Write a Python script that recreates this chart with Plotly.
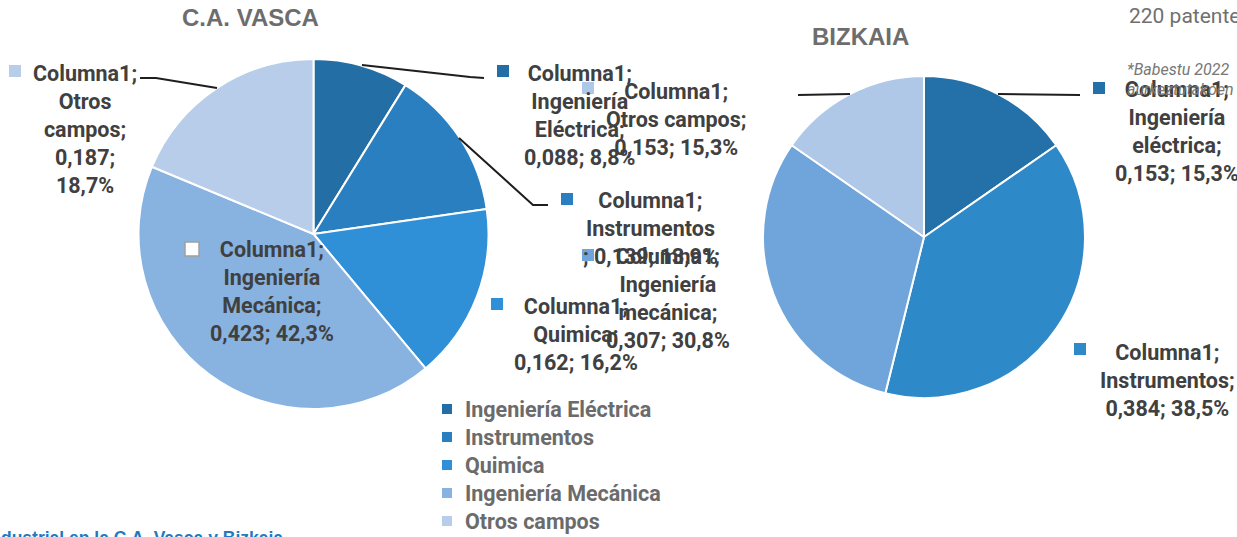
import plotly.graph_objects as go

# ---------------- data ----------------
series_name = "Columna1"

cats_vasca = ["Ingeniería Eléctrica", "Instrumentos", "Quimica", "Ingeniería Mecánica", "Otros campos"]
vals_vasca = [0.088, 0.139, 0.162, 0.423, 0.187]
pct_vasca = [8.8, 13.9, 16.2, 42.3, 18.7]

cats_bizkaia = ["Ingeniería eléctrica", "Instrumentos", "Ingeniería mecánica", "Otros campos"]
vals_bizkaia = [0.153, 0.384, 0.307, 0.153]
pct_bizkaia = [15.3, 38.5, 30.8, 15.3]

title_vasca = "C.A. VASCA"
title_bizkaia = "BIZKAIA"

# ---------------- styling ----------------
W, H = 1237, 537
colors_vasca = ["#236EA5", "#2A7FC1", "#2F90D7", "#88B3E1", "#B7CDEA"]
colors_bizkaia = ["#2470A8", "#2E89C9", "#6FA5DA", "#AFC8E8"]
LABEL_FONT = dict(family="Roboto, Arial, sans-serif", size=21.5, color="#404040", weight="bold")
LEGEND_FONT = dict(family="Roboto, Arial, sans-serif", size=21.5, color="#6B6B6B", weight="bold")


def px(x, y):
    return x / W, 1 - y / H


def fmt(v):
    return f"{v:.3f}".replace(".", ",")


def fpct(p):
    return f"{p:.1f}".replace(".", ",") + "%"


def domain(cx, cy, r):
    return dict(x=[(cx - r) / W, (cx + r) / W], y=[1 - (cy + r) / H, 1 - (cy - r) / H])


fig = go.Figure()
fig.add_trace(go.Pie(
    labels=cats_vasca, values=vals_vasca, sort=False, direction="clockwise", rotation=0,
    domain=domain(313.5, 234, 175),
    marker=dict(colors=colors_vasca, line=dict(color="white", width=2)),
    textinfo="none", textposition="none", showlegend=False, name=series_name,
))
fig.add_trace(go.Pie(
    labels=cats_bizkaia, values=vals_bizkaia, sort=False, direction="clockwise", rotation=0,
    domain=domain(924, 237, 161),
    marker=dict(colors=colors_bizkaia, line=dict(color="white", width=2)),
    textinfo="none", textposition="none", showlegend=False, name=series_name,
))

annotations = []
shapes = []


def square(cx, cy, s, fill, line=None):
    x0, y0 = px(cx - s, cy + s)
    x1, y1 = px(cx + s, cy - s)
    shapes.append(dict(type="rect", xref="paper", yref="paper", x0=x0, y0=y0, x1=x1, y1=y1,
                       fillcolor=fill, line=line or dict(width=0)))


# titles
for txt, (x, y) in [(title_vasca, (250, 17)), (title_bizkaia, (860, 36))]:
    ax, ay = px(x, y)
    annotations.append(dict(x=ax, y=ay, xref="paper", yref="paper", text=txt, showarrow=False,
                            xanchor="center", yanchor="middle",
                            font=dict(family="Liberation Sans, Arial, sans-serif", size=24,
                                      color="#6D6D6D", weight="bold")))


def lines_for(cat, val, pct, mode):
    if mode == "otros_l":
        a, b = cat.split()
        return [f"{series_name};", a, b + ";", fmt(val) + ";", fpct(pct)]
    if mode == "two_word":
        a, b = cat.split()
        return [f"{series_name};", a, b + ";", f"{fmt(val)}; {fpct(pct)}"]
    if mode == "instr_l":
        return [f"{series_name};", cat, f"; {fmt(val)}; {fpct(pct)}"]
    if mode == "single":
        return [f"{series_name};", cat + ";", f"{fmt(val)}; {fpct(pct)}"]
    return []


# (category index, wrap mode, text centre px, marker centre px, marker style)
label_layout_vasca = [
    (0, "two_word", (580, 115), (503, 71), "fill"),
    (1, "instr_l", (650, 229), (567, 199), "fill"),
    (2, "single", (576, 334), (497, 304), "fill"),
    (3, "two_word", (272, 291), (192, 249), "hollow"),
    (4, "otros_l", (85, 129), (15, 71), "fill"),
]
label_layout_bizkaia = [
    (0, "two_word", (1177, 132), (1099, 88), "fill"),
    (1, "single", (1167, 380), (1080, 349), "fill"),
    (2, "two_word", (668, 298), (588, 255), "fill"),
    (3, "single", (676, 120), (588, 88), "fill"),
]


def add_labels(cats, vals, pcts, colors, layout):
    for i, mode, (tx, ty), (mx, my), mstyle in layout:
        ls = lines_for(cats[i], vals[i], pcts[i], mode)
        ax, ay = px(tx, ty)
        annotations.append(dict(x=ax, y=ay, xref="paper", yref="paper", text="<br>".join(ls),
                                showarrow=False, xanchor="center", yanchor="middle", align="center",
                                font=LABEL_FONT))
        if mstyle == "fill":
            square(mx, my, 6, colors[i])
        else:
            square(mx, my, 7, "white", dict(width=1.5, color="#A0A0A0"))


add_labels(cats_vasca, vals_vasca, pct_vasca, colors_vasca, label_layout_vasca)
add_labels(cats_bizkaia, vals_bizkaia, pct_bizkaia, colors_bizkaia, label_layout_bizkaia)

# leader lines
leaders = [
    [(140, 78), (156, 78), (217, 88)],
    [(362, 65), (470, 77), (484, 78)],
    [(459, 138), (533, 205), (548, 205)],
    [(798, 95), (850, 94)],
    [(998, 94), (1080, 95)],
]
for pts in leaders:
    p = ""
    for k, (x, y) in enumerate(pts):
        ax, ay = px(x, y)
        p += ("M" if k == 0 else "L") + f"{ax},{ay} "
    shapes.append(dict(type="path", xref="paper", yref="paper", path=p.strip(),
                       line=dict(color="#1E1E1E", width=2)))

# manual legend (left pie categories)
leg_x, leg_y0, leg_dy = 447, 409, 28
for k, cat in enumerate(cats_vasca):
    cy = leg_y0 + k * leg_dy
    square(leg_x, cy, 5, colors_vasca[k])
    ax, ay = px(leg_x + 16, cy)
    annotations.append(dict(x=ax, y=ay, xref="paper", yref="paper", text=cat, showarrow=False,
                            xanchor="left", yanchor="middle", font=LEGEND_FONT))

# surrounding slide texts (cropped in the reference)
ax, ay = px(1127, 2)
annotations.append(dict(x=ax, y=ay, xref="paper", yref="paper", text="220 patentes", showarrow=False,
                        xanchor="left", yanchor="top",
                        font=dict(family="Roboto, sans-serif", size=21, color="#707070")))
ax, ay = px(1125, 58)
annotations.append(dict(x=ax, y=ay, xref="paper", yref="paper", text="<i>*Babestu 2022</i>",
                        showarrow=False, xanchor="left", yanchor="top",
                        font=dict(family="Roboto, sans-serif", size=16, color="#777777")))
ax, ay = px(1125, 78)
annotations.append(dict(x=ax, y=ay, xref="paper", yref="paper", text="<i>aurkeztutakoen</i>",
                        showarrow=False, xanchor="left", yanchor="top",
                        font=dict(family="Roboto, sans-serif", size=16, color="#777777")))
ax, ay = px(285, 526)
annotations.append(dict(x=ax, y=ay, xref="paper", yref="paper",
                        text="Propiedad industrial en la C.A. Vasca y Bizkaia", showarrow=False,
                        xanchor="right", yanchor="top",
                        font=dict(family="Liberation Sans, Arial, sans-serif", size=17.5,
                                  color="#1F7BC0", weight="bold")))

fig.update_layout(
    width=W, height=H,
    margin=dict(l=0, r=0, t=0, b=0),
    paper_bgcolor="white", plot_bgcolor="white",
    showlegend=False,
    annotations=annotations,
    shapes=shapes,
)

fig.write_html("out.html",
               config={"displayModeBar": False},
               post_script="document.body.style.margin='0';document.body.style.overflow='hidden';")
